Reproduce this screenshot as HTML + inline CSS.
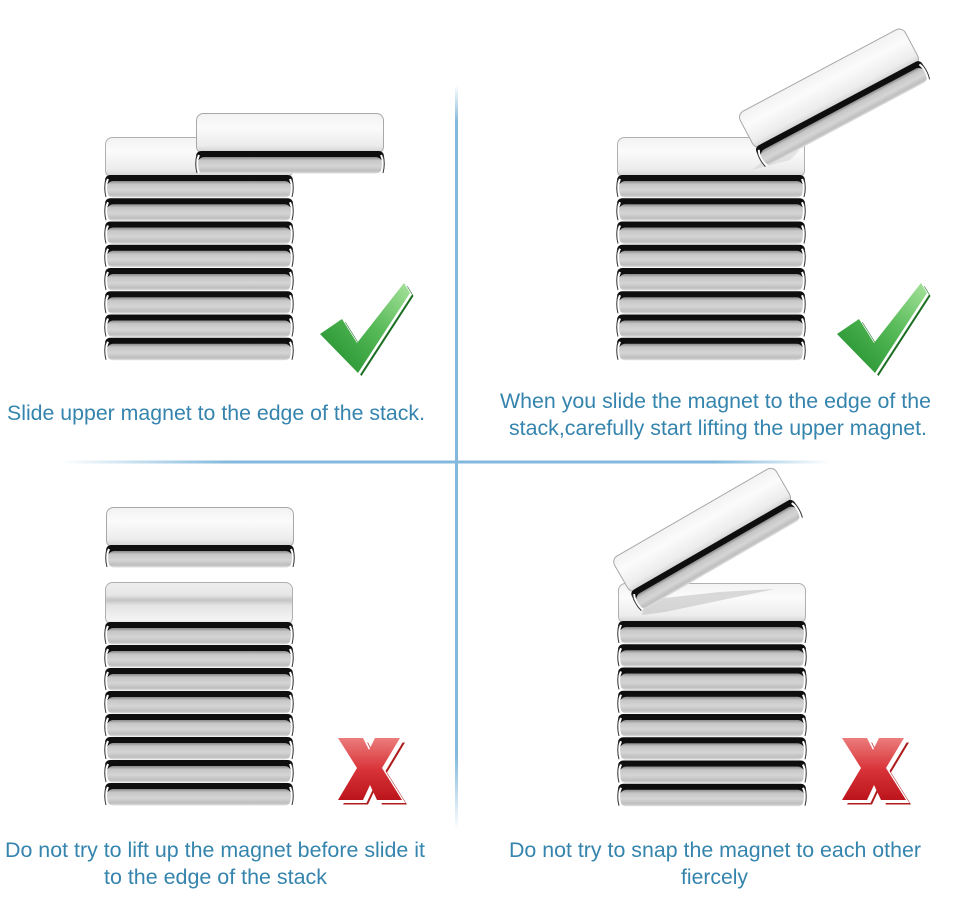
<!DOCTYPE html>
<html>
<head>
<meta charset="utf-8">
<style>
  html,body{margin:0;padding:0;background:#ffffff;}
  svg{display:block;}
  text{font-family:"Liberation Sans", Arial, sans-serif;font-size:21px;fill:#3584ae;}
</style>
</head>
<body>
<svg width="955" height="913" viewBox="0 0 955 913" xmlns="http://www.w3.org/2000/svg">
  <defs>
    <linearGradient id="faceG" x1="0" y1="0" x2="0" y2="1">
      <stop offset="0" stop-color="#f2f2f2"/>
      <stop offset="0.35" stop-color="#fbfbfb"/>
      <stop offset="0.8" stop-color="#ececec"/>
      <stop offset="1" stop-color="#cdcdcd"/>
    </linearGradient>
    <linearGradient id="faceG3" x1="0" y1="0" x2="0" y2="1">
      <stop offset="0" stop-color="#eeeeee"/>
      <stop offset="0.3" stop-color="#e6e6e6"/>
      <stop offset="0.42" stop-color="#c4c4c4"/>
      <stop offset="0.55" stop-color="#e4e4e4"/>
      <stop offset="0.9" stop-color="#f4f4f4"/>
      <stop offset="1" stop-color="#d0d0d0"/>
    </linearGradient>
    <linearGradient id="side" x1="0" y1="0" x2="0" y2="1">
      <stop offset="0" stop-color="#8a8a8a"/>
      <stop offset="0.2" stop-color="#c6c6c6"/>
      <stop offset="0.55" stop-color="#d5d5d5"/>
      <stop offset="0.85" stop-color="#bebebe"/>
      <stop offset="1" stop-color="#e2e2e2"/>
    </linearGradient>
    <linearGradient id="vline" x1="0" y1="0" x2="0" y2="1">
      <stop offset="0" stop-color="#82b9dc" stop-opacity="0"/>
      <stop offset="0.05" stop-color="#82b9dc" stop-opacity="1"/>
      <stop offset="0.9" stop-color="#82b9dc" stop-opacity="1"/>
      <stop offset="1" stop-color="#82b9dc" stop-opacity="0"/>
    </linearGradient>
    <linearGradient id="hline" x1="0" y1="0" x2="1" y2="0">
      <stop offset="0" stop-color="#82b9dc" stop-opacity="0"/>
      <stop offset="0.22" stop-color="#82b9dc" stop-opacity="1"/>
      <stop offset="0.85" stop-color="#82b9dc" stop-opacity="1"/>
      <stop offset="1" stop-color="#82b9dc" stop-opacity="0"/>
    </linearGradient>
    <linearGradient id="green" x1="1" y1="0" x2="0" y2="1">
      <stop offset="0" stop-color="#a6e29c"/>
      <stop offset="0.45" stop-color="#55b956"/>
      <stop offset="1" stop-color="#1d8a2a"/>
    </linearGradient>
    <linearGradient id="red" x1="0" y1="0" x2="0" y2="1">
      <stop offset="0" stop-color="#ec7c7c"/>
      <stop offset="0.5" stop-color="#d9343a"/>
      <stop offset="1" stop-color="#bc141c"/>
    </linearGradient>

    <g id="slab">
      <rect x="0" y="0" width="188" height="10" rx="5" fill="#0e0e0e"/>
      <rect x="1.5" y="6" width="185" height="16.5" rx="7" fill="url(#side)"/>
      <path d="M3,4 Q-1,13 3,22" fill="none" stroke="#ffffff" stroke-width="2"/>
      <path d="M185,4 Q189,13 185,22" fill="none" stroke="#ffffff" stroke-width="2"/>
      <path d="M1,3 Q-1.5,13 1,22" fill="none" stroke="#333" stroke-width="1"/>
      <path d="M187,3 Q189.5,13 187,22" fill="none" stroke="#333" stroke-width="1"/>
    </g>

    <g id="stackA">
      <rect x="0.5" y="0.5" width="187" height="40" rx="7" fill="url(#faceG)" stroke="#b0b0b0" stroke-width="1"/>
      <use href="#slab" y="38"/>
      <use href="#slab" y="61.25"/>
      <use href="#slab" y="84.5"/>
      <use href="#slab" y="107.75"/>
      <use href="#slab" y="131"/>
      <use href="#slab" y="154.25"/>
      <use href="#slab" y="177.5"/>
      <use href="#slab" y="200.75"/>
    </g>

    <g id="stackB">
      <rect x="0.5" y="0.5" width="187" height="42" rx="7" fill="url(#faceG3)" stroke="#b0b0b0" stroke-width="1"/>
      <use href="#slab" y="40"/>
      <use href="#slab" y="63"/>
      <use href="#slab" y="86"/>
      <use href="#slab" y="109"/>
      <use href="#slab" y="132"/>
      <use href="#slab" y="155"/>
      <use href="#slab" y="178"/>
      <use href="#slab" y="201"/>
    </g>

    <g id="mag">
      <rect x="0.5" y="0.5" width="187" height="40" rx="7" fill="url(#faceG)" stroke="#a8a8a8" stroke-width="1"/>
      <use href="#slab" y="38"/>
    </g>

    <g id="check">
      <polygon points="2,53 24,38 39,62 86,2 92,12 40,92" fill="#1b6e22" transform="translate(3.5,3)"/>
      <polygon points="2,53 24,38 39,62 86,2 92,12 40,92" fill="#ffffff" transform="translate(2,1.6)"/>
      <polygon points="2,53 24,38 39,62 86,2 92,12 40,92" fill="url(#green)"/>
    </g>

    <g id="xmark">
      <polygon points="0,0 25,0 31,12 37,0 62,0 44,30 64,62 39,62 32,47 25,62 0,62 19,30" fill="#b01c1c" transform="translate(5,4.5)"/>
      <polygon points="0,0 25,0 31,12 37,0 62,0 44,30 64,62 39,62 32,47 25,62 0,62 19,30" fill="#ffffff" transform="translate(3.5,3)"/>
      <polygon points="0,0 25,0 31,12 37,0 62,0 44,30 64,62 39,62 32,47 25,62 0,62 19,30" fill="url(#red)"/>
    </g>
  </defs>

  <!-- dividers -->
  <rect x="455" y="85" width="3" height="745" fill="url(#vline)"/>
  <rect x="60" y="460.5" width="770" height="3" fill="url(#hline)"/>

  <!-- Q1 -->
  <use href="#stackA" x="105" y="137"/>
  <use href="#mag" x="196" y="113"/>
  <use href="#check" x="318" y="281"/>
  <text x="7" y="420" textLength="418" lengthAdjust="spacingAndGlyphs">Slide upper magnet to the edge of the stack.</text>

  <!-- Q2 -->
  <use href="#stackA" x="617" y="137"/>
  <polygon points="752,170 790,160 800,150 770,155" fill="#cfcfcf" opacity="0.5"/>
  <g transform="translate(765,168) rotate(-28)">
    <use href="#mag" y="-61"/>
  </g>
  <use href="#check" x="835" y="281"/>
  <text x="500" y="408" textLength="431" lengthAdjust="spacingAndGlyphs">When you slide the magnet to the edge of the</text>
  <text x="509" y="435" textLength="418" lengthAdjust="spacingAndGlyphs">stack,carefully start lifting the upper magnet.</text>

  <!-- Q3 -->
  <use href="#mag" x="106" y="507"/>
  <use href="#stackB" x="105" y="582"/>
  <use href="#xmark" x="338" y="738"/>
  <text x="5" y="857" textLength="420" lengthAdjust="spacingAndGlyphs">Do not try to lift up the magnet before slide it</text>
  <text x="104" y="884" textLength="223" lengthAdjust="spacingAndGlyphs">to the edge of the stack</text>

  <!-- Q4 -->
  <use href="#stackA" x="618" y="583"/>
  <polygon points="642,615 665,612 775,589 720,592 645,600" fill="#bdbdbd" opacity="0.55"/>
  <g transform="translate(641,612) rotate(-30)">
    <use href="#mag" y="-61"/>
  </g>
  <use href="#xmark" x="842" y="738"/>
  <text x="509" y="857" textLength="412" lengthAdjust="spacingAndGlyphs">Do not try to snap the magnet to each other</text>
  <text x="681" y="884" textLength="67" lengthAdjust="spacingAndGlyphs">fiercely</text>
</svg>
</body>
</html>
